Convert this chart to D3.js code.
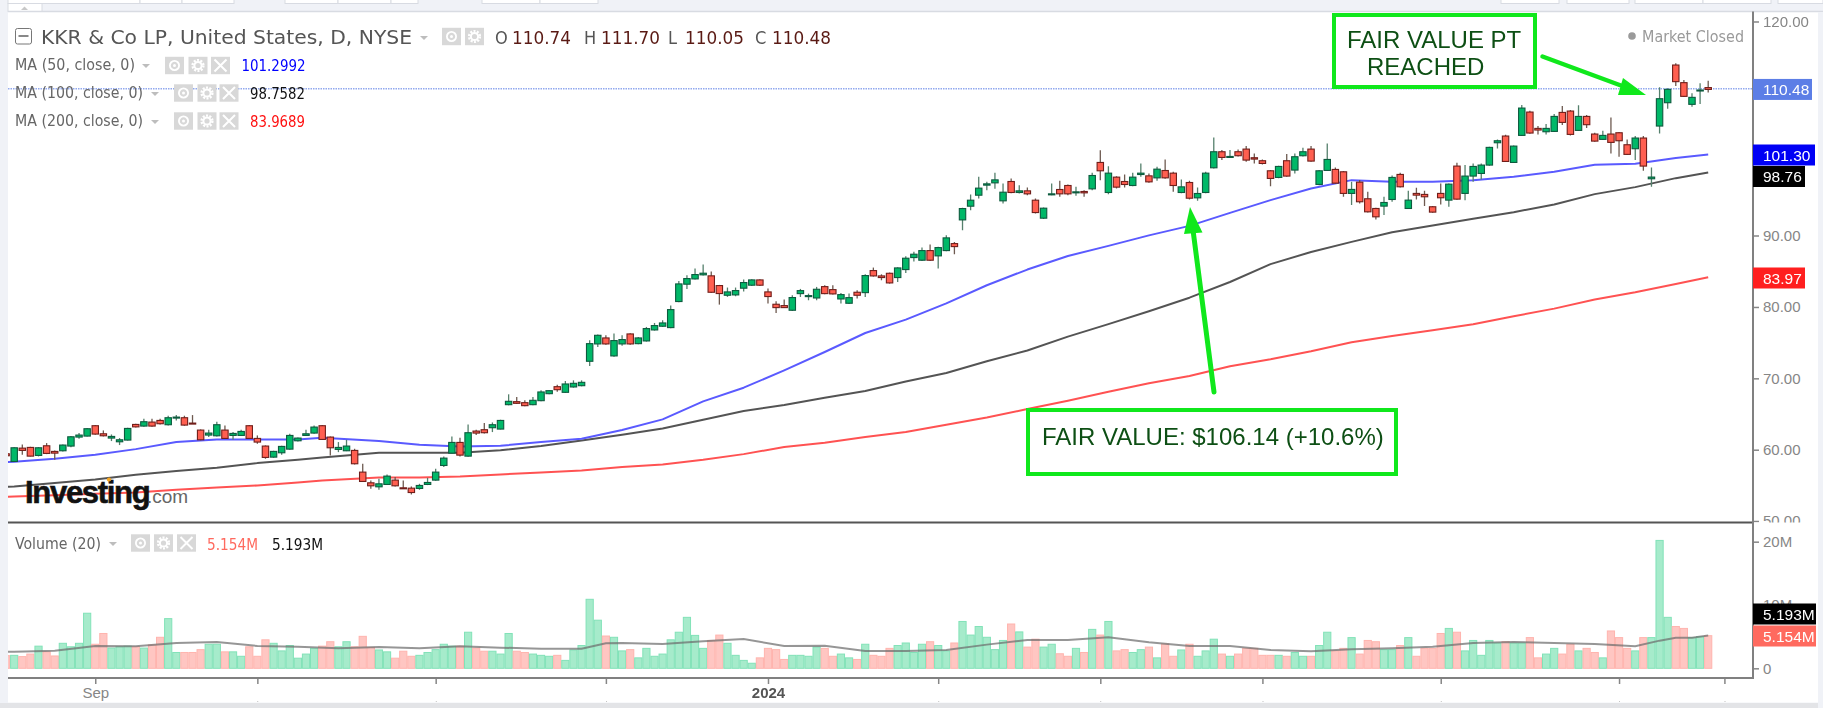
<!DOCTYPE html>
<html>
<head>
<meta charset="utf-8">
<script src="https://cdn.jsdelivr.net/npm/d3@7"></script>
<style>
  html, body { margin: 0; padding: 0; background: #f0f2f7; overflow: hidden; }
  svg { display: block; filter: blur(0.45px); }
  .legend { font-family: "DejaVu Sans Condensed", "DejaVu Sans", sans-serif; }
  .ax text { font-family: "Liberation Sans", Arial, sans-serif; fill: #868686; font-size: 15px; }
  .ax line { stroke: #868686; stroke-width: 1.5; }
  .note { font-family: "Liberation Sans", Arial, sans-serif; fill: #0d4f14; font-size: 24px; }
</style>
</head>
<body>
<svg id="chart" width="1823" height="708"></svg>
<script>
// daily bars, first one is cut by the left edge of the pane
var opens = [59.43,58.35,60.22,60.32,59.20,60.55,59.76,59.85,60.51,61.77,
  61.91,63.36,62.23,61.63,61.11,61.35,63.54,63.31,63.87,64.10,
  63.50,64.43,64.48,63.73,62.75,62.05,61.95,62.75,62.0,62.0,
  63.36,61.58,60.51,58.96,59.57,60.08,61.25,62.0,62.33,63.36,
  61.77,60.04,59.85,59.90,56.86,55.36,54.80,55.13,55.74,54.66,
  54.61,54.57,55.13,55.74,57.79,59.52,61.02,59.10,62.61,62.80,
  63.08,62.89,66.31,66.73,66.59,66.31,66.87,67.85,68.83,68.04,
  68.79,68.97,72.39,74.82,75.66,73.14,74.82,76.22,74.86,75.24,
  76.78,77.30,77.11,80.76,83.19,83.93,84.50,84.36,83.0,81.64,
  81.69,82.63,83.05,83.79,82.11,80.38,80.19,79.54,81.87,81.50,
  81.26,82.85,82.43,81.12,80.52,82.06,82.01,85.10,84.35,84.72,
  84.12,85.24,86.92,86.55,87.90,87.16,87.90,88.88,92.20,94.12,
  95.66,97.07,97.39,94.87,97.58,96.04,96.27,94.96,92.44,95.71,
  96.46,97.02,96.04,96.18,96.55,100.25,96.04,98.19,97.58,97.02,
  98.56,98.37,98.09,99.12,98.75,96.04,97.44,95.29,96.04,99.50,
  101.75,100.95,101.75,102.12,100.91,100.49,99.08,98.15,100.49,99.18,
  101.19,102.12,97.17,99.13,99.27,98.94,95.91,97.49,95.16,93.80,
  94.13,95.06,98.57,93.80,95.91,95.77,94.04,95.91,94.97,99.74,
  95.91,98.34,98.71,99.88,103.01,103.95,100.25,104.04,107.31,105.02,
  104.55,104.60,107.26,107.45,104.74,106.70,104.23,103.48,104.23,104.41,
  102.73,102.17,103.67,97.96,105.35,108.62,113.90,111.43,108.39,110.26,110.74];
var highs = [59.5,60.36,60.74,60.41,60.36,60.93,59.90,60.74,61.91,62.33,
  63.03,63.45,62.70,62.14,61.63,63.08,63.64,64.34,64.34,64.34,
  64.76,64.85,64.76,64.85,62.84,62.80,63.92,63.40,62.47,62.80,
  63.45,62.0,60.60,59.85,60.55,62.23,61.72,62.80,63.40,63.45,
  61.86,61.07,61.39,60.13,58.03,55.69,55.92,56.53,56.16,55.69,
  54.85,55.22,56.06,57.33,59.06,61.86,61.67,63.54,62.80,63.73,
  63.82,64.20,67.76,67.38,66.92,67.38,68.32,68.37,69.11,69.63,
  69.72,69.72,75.33,76.13,76.03,76.27,76.03,76.31,75.80,77.20,
  77.76,78.14,80.19,83.65,84.45,85.38,85.94,84.96,83.09,82.72,
  82.72,83.84,83.89,83.89,82.58,80.80,81.04,81.64,82.53,81.87,
  82.81,83.04,83.04,81.97,81.87,82.34,84.58,85.52,84.58,84.82,
  85.57,87.11,87.72,88.32,88.74,88.42,90.05,89.12,93.89,95.76,
  98.23,97.53,98.80,97.30,98.0,97.07,96.74,95.20,93.93,97.30,
  97.67,97.16,96.83,96.37,98.80,101.97,99.73,98.33,98.56,98.80,
  100.10,98.70,99.64,100.67,98.94,97.86,97.67,96.74,98.94,103.76,
  101.98,101.98,102.08,102.54,101.51,100.67,99.18,99.79,101.42,101.51,
  102.31,102.54,99.18,102.92,99.55,99.04,97.54,97.78,96.14,93.89,
  95.44,98.43,98.80,96.28,96.70,96.28,94.13,97.31,97.31,100.19,
  99.88,100.11,100.11,102.45,103.48,104.13,102.64,108.29,107.50,105.35,
  105.63,107.03,108.15,107.59,108.25,106.89,104.41,104.69,106.56,104.51,
  103.48,103.95,103.95,99.55,110.77,110.63,114.14,111.80,109.93,111.33,111.70];
var lows = [59.1,58.31,59.29,59.06,59.06,59.38,58.59,59.76,60.36,61.53,
  61.86,62.09,61.86,61.21,60.65,61.30,63.12,63.22,63.22,63.54,
  63.40,64.10,63.36,63.64,61.30,61.77,61.86,61.49,61.39,61.91,
  61.49,60.83,58.73,58.87,59.29,59.99,61.16,61.91,62.23,61.35,
  59.20,59.66,59.80,57.93,55.46,54.52,54.38,55.08,54.85,54.52,
  53.73,54.38,55.04,55.64,57.56,59.43,59.06,59.01,62.05,62.28,
  62.47,62.84,66.22,66.40,66.08,66.22,66.78,67.76,68.13,67.95,
  68.69,68.88,71.73,74.40,74.72,73.04,74.58,74.72,74.77,75.15,
  76.69,77.20,77.02,80.66,82.53,83.84,84.40,81.97,80.33,81.41,
  81.50,82.16,82.95,82.95,80.47,79.17,79.87,79.45,81.40,80.94,
  80.94,81.78,81.73,80.47,80.42,81.17,81.40,84.26,83.74,83.27,
  83.51,84.77,86.36,86.45,86.45,85.38,87.81,87.39,90.75,93.56,
  95.20,96.37,96.55,94.50,95.94,95.90,95.66,93.09,92.34,95.66,
  95.43,95.66,95.57,95.43,96.37,97.77,95.80,96.60,96.74,96.93,
  98.23,97.39,97.67,97.95,96.13,95.94,95.06,94.87,95.94,99.41,
  100.58,100.86,101.09,100.35,100.11,99.97,96.93,98.05,98.24,98.71,
  101.09,100.35,97.07,99.04,97.26,95.44,94.27,94.50,93.24,92.26,
  92.87,94.74,96.75,93.71,95.06,94.13,93.19,94.36,94.04,95.02,
  94.97,97.54,97.87,99.78,102.22,100.30,100.16,103.95,104.27,104.18,
  104.18,104.51,105.49,104.04,104.65,105.07,103.15,103.38,101.51,101.05,
  101.28,100.58,99.08,96.84,104.32,107.78,110.96,109.42,108.06,108.43,110.05];
var closes = [59.15,60.27,59.90,59.10,60.27,59.48,59.52,60.65,61.81,62.05,
  62.94,62.19,61.95,61.86,61.39,62.98,63.20,63.92,63.31,63.64,
  64.48,64.57,63.45,63.64,61.39,62.33,63.50,61.58,62.28,62.56,
  61.58,61.07,58.92,59.76,60.46,62.0,61.63,62.23,63.17,61.44,
  60.27,60.32,60.51,58.03,55.55,54.94,55.22,56.30,54.94,54.52,
  54.0,54.99,55.41,56.86,58.82,61.02,59.24,62.38,62.33,62.38,
  63.50,64.10,66.78,66.50,66.17,66.92,68.09,68.27,68.41,69.21,
  69.30,69.44,74.86,76.03,74.82,75.29,75.43,74.82,75.66,76.97,
  77.39,77.76,79.63,83.23,83.98,84.54,84.73,82.06,81.88,82.11,
  82.30,83.42,83.79,83.05,81.46,79.91,79.91,81.32,82.29,81.59,
  82.48,81.87,81.83,81.73,81.31,81.64,84.40,84.35,84.12,83.37,
  85.47,86.83,87.39,87.90,86.55,88.32,89.68,88.46,93.79,94.96,
  96.65,97.25,97.81,96.08,96.04,96.27,95.85,93.23,93.84,95.85,
  95.85,95.85,96.13,95.99,98.42,99.08,98.75,96.79,97.16,98.19,
  98.75,97.53,99.31,98.09,97.02,96.83,95.24,95.90,98.75,101.75,
  100.95,101.09,101.19,100.58,100.72,100.11,98.01,99.69,98.34,101.05,
  101.75,100.44,99.08,100.67,97.35,95.91,96.47,94.74,93.33,92.63,
  94.64,98.15,96.84,94.97,95.67,95.44,93.29,95.30,97.21,95.11,
  98.34,99.69,99.88,102.36,103.29,100.39,102.54,107.87,104.37,104.79,
  105.02,106.70,105.86,104.18,106.70,105.54,103.24,104.04,103.06,103.29,
  101.38,103.67,99.74,98.20,109.18,110.49,111.57,109.51,109.37,110.40,110.48];
// volume in millions, same bars
var volumes = [2.0,2.05,1.85,2.25,3.5,2.6,1.95,3.95,3.4,3.95,
  8.7,3.8,5.5,3.2,3.4,3.5,3.4,3.2,3.7,4.9,
  7.85,2.5,2.5,2.5,2.95,3.8,3.8,2.6,2.6,1.9,
  3.4,1.9,4.5,3.95,2.75,3.6,1.6,2.25,3.15,3.5,
  4.2,3.4,4.2,3.4,5.05,3.3,2.9,2.6,1.6,2.7,
  1.9,2.05,2.5,2.95,3.8,3.5,3.5,5.7,3.2,2.7,
  2.7,2.25,5.5,2.7,2.5,2.25,2.05,1.9,2.05,1.25,
  2.9,3.6,10.9,7.6,5.1,4.9,2.75,2.95,1.65,3.15,
  1.9,2.25,4.5,5.7,8.05,5.2,3.15,4.4,5.25,3.95,
  2.05,1.25,0.8,1.65,3.15,2.95,1.4,2.05,2.05,1.9,
  3.35,3.15,1.9,2.25,1.65,1.4,3.8,2.05,1.9,3.15,
  3.6,4.0,2.5,3.8,4.2,3.6,2.75,4.0,7.4,5.25,
  6.6,4.9,2.95,4.4,7.0,5.75,3.35,4.6,3.35,3.8,
  2.3,1.9,3.15,2.5,6.15,5.25,7.4,2.75,2.95,2.5,
  2.95,3.35,1.65,3.85,1.9,2.9,3.8,1.9,2.75,4.6,
  2.25,1.9,2.25,3.15,3.15,2.05,2.05,2.05,1.9,2.5,
  1.9,1.9,3.6,5.7,2.75,3.15,4.85,2.25,4.4,4.2,
  2.95,2.95,3.6,4.85,1.9,3.15,3.15,5.5,6.3,5.7,
  2.75,4.4,2.05,4.4,4.0,4.2,4.0,4.0,4.85,1.65,
  2.25,3.15,2.25,3.8,2.75,3.15,2.5,1.65,5.9,4.85,
  3.15,2.75,4.85,4.85,20.2,8.05,6.6,6.3,4.85,5.0,5.154];
var barIndex = d3.range(-1, 210);

// moving averages at these bars
var ma50Bars = [-1,0,5,10,15,20,25,30,35,38,45,50,55,60,65,70,75,80,85,90,95,100,105,110,115,120,125,130,135,140,145,150,155,160,165,170,175,180,185,190,195,200,205,209];
var ma50 = [58.25,58.31,58.73,59.29,60.08,61.07,61.44,61.44,61.44,61.67,61.21,60.69,60.46,60.55,61.07,61.53,62.75,64.25,66.77,68.69,71.12,73.69,76.35,78.23,80.5,83.04,85.24,87.14,88.56,90.03,91.36,93.19,94.97,96.61,97.77,97.55,97.55,97.75,98.24,98.94,99.92,100.08,100.86,101.35];
var ma100Bars = [-1,0,5,10,15,20,25,30,35,38,45,50,55,60,65,70,75,80,85,90,95,100,105,110,115,120,125,130,135,140,145,150,155,160,165,170,175,180,185,190,195,200,205,209];
var ma100 = [54.8,54.85,55.32,55.83,56.48,57.0,57.47,58.12,58.59,58.92,59.57,59.57,59.57,59.94,60.51,61.3,62.09,62.98,64.20,65.41,66.26,67.28,68.22,69.57,70.75,72.4,73.9,75.85,77.6,79.4,81.3,83.5,86.0,87.7,89.12,90.48,91.41,92.35,93.28,94.36,95.81,96.79,98.05,98.85];
var ma200Bars = [-1,0,5,10,15,20,25,30,35,38,45,50,55,60,65,70,75,80,85,90,95,100,105,110,115,120,125,130,135,140,145,150,155,160,165,170,175,180,185,190,195,200,205,209];
var ma200 = [53.4,53.45,53.63,53.82,54.0,54.38,54.71,54.99,55.41,55.69,56.11,56.11,56.25,56.53,56.81,57.1,57.56,57.93,58.59,59.38,60.37,60.97,61.77,62.47,63.5,64.5,65.7,66.87,68.13,69.30,70.33,71.68,72.67,73.79,75.05,75.94,76.74,77.58,78.70,79.77,81.04,82.06,83.23,84.15];
var volMaBars = [-1,0,5,10,15,20,25,30,35,40,45,50,55,60,65,70,73,75,80,85,90,95,100,105,110,115,120,125,130,135,140,145,150,155,160,165,170,175,180,185,190,195,200,203,205,207,209];
var volMa = [2.6,2.63,2.79,3.53,3.47,4.0,4.16,3.53,3.42,3.16,3.37,3.16,3.47,3.26,3.1,3.1,3.95,4.0,3.84,4.26,4.63,3.53,3.58,2.74,2.74,2.89,3.74,4.47,4.47,4.89,4.1,3.53,3.53,2.89,2.68,3.0,3.16,3.42,4.0,4.16,4.0,3.84,3.47,4.37,4.84,4.84,5.193];

var priceTicks = [120,90,80,70,60,50];
var volumeTicks = [0,10,20];
var monthBars = [10,30,52,73,93,114,134,154,176,198,211];
var monthLabels = ["Sep",".",".",".","2024",".",".",".",".",".","."];

var pane = {left: 8, right: 1753, top: 11.5, sep: 522.5, bottom: 678};
var upFill = "#00b868", upLine = "#0d5a3e", upWick = "#55806c";
var downFill = "#ff5f50", downLine = "#701e1a", downWick = "#6e5a50";

var svg = d3.select("#chart");
svg.append("rect").attr("x", pane.left).attr("y", pane.top)
  .attr("width", 1810).attr("height", 691).attr("fill", "#fff");

var defs = svg.append("defs");
defs.append("clipPath").attr("id", "mainClip").append("rect")
  .attr("x", pane.left).attr("y", pane.top)
  .attr("width", pane.right - pane.left).attr("height", pane.sep - pane.top);
defs.append("clipPath").attr("id", "volClip").append("rect")
  .attr("x", pane.left).attr("y", pane.sep)
  .attr("width", pane.right - pane.left).attr("height", pane.bottom - pane.sep);
defs.append("clipPath").attr("id", "axisClip").append("rect")
  .attr("x", pane.right).attr("y", pane.top)
  .attr("width", 70).attr("height", pane.sep - pane.top);

// scales
var x = d3.scaleLinear().domain([0, 209]).range([14.2, 1708.2]);
var y = d3.scaleLinear().domain([49.8, 121.4]).range([pane.sep, pane.top]);
var v = d3.scaleLinear().domain([-1.53, 23.03]).range([pane.bottom, pane.sep]);

// top strip of the page
var strip = svg.append("g");
[[8, 140], [140, 182], [182, 234], [285, 338], [338, 391], [391, 418], [482, 540], [540, 598], [1501, 1559], [1567, 1629], [1635, 1703], [1703, 1771], [1778, 1823]]
  .forEach(function(c) {
    strip.append("rect").attr("x", c[0]).attr("y", -2).attr("width", c[1] - c[0]).attr("height", 5.5)
      .attr("fill", "#fff").attr("stroke", "#d8dbe2");
  });
strip.append("rect").attr("x", 8).attr("y", 3.5).attr("width", 34).attr("height", 8)
  .attr("fill", "#fff").attr("stroke", "#d8dbe2");
strip.append("path").attr("d", "M21,10 L24.5,6.5 L28,10 Z").attr("fill", "#c8c8c8");
svg.append("line").attr("x1", 8).attr("x2", 1823).attr("y1", 11.5).attr("y2", 11.5)
  .attr("stroke", "#d8dbe2").attr("stroke-width", 1.5);
svg.append("rect").attr("x", 0).attr("y", 703).attr("width", 1823).attr("height", 5).attr("fill", "#e3e4e7");
svg.append("rect").attr("x", 1818).attr("y", 12).attr("width", 5).attr("height", 696).attr("fill", "#f0f2f7");

// volume pane
var volG = svg.append("g").attr("clip-path", "url(#volClip)");
volG.selectAll("rect").data(barIndex).enter().append("rect")
  .attr("x", function(d) { return x(d) - 3.6; })
  .attr("width", 7.2)
  .attr("y", function(d, i) { return v(volumes[i]); })
  .attr("height", function(d, i) { return v(0) - v(volumes[i]); })
  .attr("fill", function(d, i) { return closes[i] >= opens[i] ? "#a6ebcb" : "#ffc6c2"; })
  .attr("stroke", function(d, i) { return closes[i] >= opens[i] ? "#82e2b8" : "#ffb4ae"; });
volG.append("path").datum(volMaBars)
  .attr("fill", "none").attr("stroke", "#6e6e6e").attr("stroke-opacity", 0.72).attr("stroke-width", 2)
  .attr("d", d3.line().x(function(d) { return x(d); }).y(function(d, i) { return v(volMa[i]); }));

// moving averages go under the candles
var mainG = svg.append("g").attr("clip-path", "url(#mainClip)");
function drawMa(bars, vals, colour) {
  mainG.append("path").datum(bars)
    .attr("fill", "none").attr("stroke", colour).attr("stroke-width", 2)
    .attr("stroke-linejoin", "round")
    .attr("d", d3.line().x(function(d) { return x(d); }).y(function(d, i) { return y(vals[i]); }));
}
drawMa(ma200Bars, ma200, "#ff5252");
drawMa(ma100Bars, ma100, "#545454");
drawMa(ma50Bars, ma50, "#5a5aff");

// last price line
mainG.append("line").attr("x1", pane.left).attr("x2", pane.right)
  .attr("y1", y(closes[210]) - 0.6).attr("y2", y(closes[210]) - 0.6)
  .attr("stroke", "#5c7ee6").attr("stroke-dasharray", "1.5,1");

// candles
var candle = mainG.selectAll("g.candle").data(barIndex).enter().append("g").attr("class", "candle");
candle.append("line")
  .attr("x1", function(d) { return x(d); }).attr("x2", function(d) { return x(d); })
  .attr("y1", function(d, i) { return y(highs[i]); })
  .attr("y2", function(d, i) { return y(lows[i]); })
  .attr("stroke-width", 1.3)
  .attr("stroke", function(d, i) { return closes[i] >= opens[i] ? upWick : downWick; });
candle.append("rect")
  .attr("x", function(d) { return x(d) - 3.2; })
  .attr("width", 6.4)
  .attr("y", function(d, i) { return y(Math.max(opens[i], closes[i])); })
  .attr("height", function(d, i) { return Math.max(1, Math.abs(y(opens[i]) - y(closes[i]))); })
  .attr("fill", function(d, i) { return closes[i] >= opens[i] ? upFill : downFill; })
  .attr("stroke-width", 1.1)
  .attr("stroke", function(d, i) { return closes[i] >= opens[i] ? upLine : downLine; });

// Investing.com mark
var logo = svg.append("g").attr("font-family", "'Liberation Sans', Arial, sans-serif");
logo.append("text").attr("x", 25).attr("y", 503).attr("font-size", 31).attr("font-weight", "bold")
  .attr("fill", "#111").attr("stroke", "#111").attr("stroke-width", 0.6).attr("letter-spacing", -1.3).text("Investing");
logo.append("text").attr("x", 147).attr("y", 503).attr("font-size", 19).attr("fill", "#666").text(".com");
logo.append("ellipse").attr("cx", 109).attr("cy", 479.5).attr("rx", 2.2).attr("ry", 2).attr("fill", "#f5a623");

// axes, the clip sits on an outer group so it stays in page coordinates
var priceAxis = svg.append("g").attr("clip-path", "url(#axisClip)").append("g").attr("class", "ax")
  .attr("transform", "translate(" + pane.right + ",0)")
  .call(d3.axisRight(y).tickValues(priceTicks).tickSize(6).tickPadding(4).tickFormat(d3.format(".2f")));
priceAxis.select(".domain").remove();

var volAxis = svg.append("g").attr("class", "ax")
  .attr("transform", "translate(" + pane.right + ",0)")
  .call(d3.axisRight(v).tickValues(volumeTicks).tickSize(6).tickPadding(4)
    .tickFormat(function(d) { return d === 0 ? "0" : d + "M"; }));
volAxis.select(".domain").remove();

var timeAxis = svg.append("g").attr("class", "ax")
  .attr("transform", "translate(0," + pane.bottom + ")")
  .call(d3.axisBottom(x).tickValues(monthBars).tickSize(6).tickPadding(3)
    .tickFormat(function(d, i) { return monthLabels[i]; }));
timeAxis.select(".domain").remove();
timeAxis.selectAll("text").each(function(d, i) {
  var t = d3.select(this);
  if(monthLabels[i] === "2024") {
    t.style("font-weight", "bold").style("fill", "#555").style("font-size", "15px");
  } else if(monthLabels[i] === ".") {
    t.style("font-size", "9px").style("fill", "#bbb").attr("dy", "1.7em");
  }
});

// pane frame
svg.append("line").attr("x1", pane.left).attr("x2", pane.right).attr("y1", pane.sep).attr("y2", pane.sep)
  .attr("stroke", "#555").attr("stroke-width", 2.2);
svg.append("line").attr("x1", pane.left).attr("x2", pane.right + 1).attr("y1", pane.bottom).attr("y2", pane.bottom)
  .attr("stroke", "#808080").attr("stroke-width", 2.2);
svg.append("line").attr("x1", pane.right).attr("x2", pane.right).attr("y1", pane.top).attr("y2", pane.bottom)
  .attr("stroke", "#808080").attr("stroke-width", 2);

// value tags on the right axis
function tag(yc, w, fill, colour, label) {
  svg.append("rect").attr("x", pane.right).attr("y", yc - 10.5).attr("width", w).attr("height", 21).attr("fill", fill);
  svg.append("text").attr("x", pane.right + 10).attr("y", yc + 5.5)
    .attr("font-family", "'Liberation Sans', Arial, sans-serif").attr("font-size", 15.5)
    .attr("fill", colour).text(label);
}
tag(y(closes[210]), 59, "#5c7ee6", "#fff", "110.48");
tag(155, 62, "#0000f5", "#fff", "101.30");
tag(176.5, 52, "#000", "#fff", "98.76");
tag(278, 52, "#ff1f1f", "#fff", "83.97");
tag(614, 63, "#000", "#fff", "5.193M");
tag(636, 63, "#ff6a5f", "#fff", "5.154M");

// little legend buttons
function buttons(xs, yc, withClose) {
  xs.forEach(function(bx, i) {
    var g = svg.append("g").attr("transform", "translate(" + bx + "," + yc + ")");
    g.append("rect").attr("x", -9.5).attr("y", -8.7).attr("width", 19).attr("height", 17.4).attr("fill", "#d8d8d8");
    if(i === 0) {
      g.append("circle").attr("r", 4.6).attr("fill", "none").attr("stroke", "#fff").attr("stroke-width", 1.8);
      g.append("circle").attr("r", 1.5).attr("fill", "#fff");
    } else if(i === 1) {
      g.append("circle").attr("r", 5.4).attr("fill", "none").attr("stroke", "#fff").attr("stroke-width", 2.4).attr("stroke-dasharray", "2,1.4");
      g.append("circle").attr("r", 3.6).attr("fill", "none").attr("stroke", "#fff").attr("stroke-width", 2);
    } else if(withClose) {
      g.append("path").attr("d", "M-6,-6 L6,6 M6,-6 L-6,6").attr("stroke", "#fff").attr("stroke-width", 2);
    }
  });
}
function caret(cx, cy) {
  svg.append("path").attr("d", "M" + (cx - 4) + "," + (cy - 2) + " l8,0 l-4,4 Z").attr("fill", "#bdbdbd");
}
function legendText(tx, ty, size, colour, label, len) {
  var t = svg.append("text").attr("class", "legend").attr("x", tx).attr("y", ty)
    .attr("font-size", size).attr("fill", colour).text(label);
  if(len) t.attr("textLength", len).attr("lengthAdjust", "spacingAndGlyphs");
}

// title row
svg.append("rect").attr("x", 15.5).attr("y", 28.5).attr("width", 16).attr("height", 15.5).attr("rx", 2)
  .attr("fill", "#fff").attr("stroke", "#777");
svg.append("line").attr("x1", 18.5).attr("x2", 28.5).attr("y1", 36).attr("y2", 36).attr("stroke", "#555").attr("stroke-width", 1.4);
legendText(41, 44, 19, "#555", "KKR & Co LP, United States, D, NYSE", 371);
caret(424, 38);
buttons([451.5, 474.5], 36.5, false);
var ohlc = [["O", "110.74", 495], ["H", "111.70", 584], ["L", "110.05", 668], ["C", "110.48", 755]];
ohlc.forEach(function(o) {
  legendText(o[2], 44, 18, "#555", o[0]);
  legendText(o[2] + 17, 44, 18, "#5a1a14", o[1], 59);
});

// moving average rows
legendText(15, 70, 15, "#666", "MA (50, close, 0)", 120);
caret(146, 66);
buttons([174.5, 198, 220.5], 65.5, true);
legendText(241.5, 71, 15, "#0000ff", "101.2992", 64);
legendText(15, 98, 15, "#666", "MA (100, close, 0)", 128);
caret(155, 94);
buttons([183.5, 207, 229], 93, true);
legendText(250, 99, 15, "#111", "98.7582", 55);
legendText(15, 126, 15, "#666", "MA (200, close, 0)", 128);
caret(155, 122);
buttons([183.5, 207, 229], 121, true);
legendText(250, 127, 15, "#ff1010", "83.9689", 55);

legendText(15, 549, 15, "#666", "Volume (20)", 86);
caret(113, 544);
buttons([140.5, 163.5, 186.5], 543, true);
legendText(207, 549.5, 15, "#ff6a5f", "5.154M", 51);
legendText(272, 549.5, 15, "#111", "5.193M", 51);

// market status
svg.append("circle").attr("cx", 1632).attr("cy", 36).attr("r", 3.8).attr("fill", "#9a9a9a");
legendText(1642, 42, 15, "#9a9a9a", "Market Closed", 102);

// hand drawn notes on top of the chart
var green = "#10e81c";
function noteBox(bx, by, bw, bh) {
  svg.append("rect").attr("x", bx).attr("y", by).attr("width", bw).attr("height", bh)
    .attr("fill", "#fff").attr("stroke", green).attr("stroke-width", 4);
}
noteBox(1334, 15, 201, 72);
svg.append("text").attr("class", "note").attr("x", 1347).attr("y", 48).text("FAIR VALUE PT");
svg.append("text").attr("class", "note").attr("x", 1367).attr("y", 75).text("REACHED");
noteBox(1028, 410, 368, 64);
svg.append("text").attr("class", "note").attr("x", 1042).attr("y", 445).text("FAIR VALUE: $106.14 (+10.6%)");

svg.append("line").attr("x1", 1542.5).attr("y1", 56.5).attr("x2", 1625).attr("y2", 87)
  .attr("stroke", green).attr("stroke-width", 4.5).attr("stroke-linecap", "round");
svg.append("path").attr("d", "M1623,78 L1618,95 L1646,95 Z").attr("fill", green);
svg.append("line").attr("x1", 1214).attr("y1", 392).attr("x2", 1193).attr("y2", 230)
  .attr("stroke", green).attr("stroke-width", 5).attr("stroke-linecap", "round");
svg.append("path").attr("d", "M1190,207 L1184,234 L1202.5,232.5 Z").attr("fill", green);
</script>
</body>
</html>
